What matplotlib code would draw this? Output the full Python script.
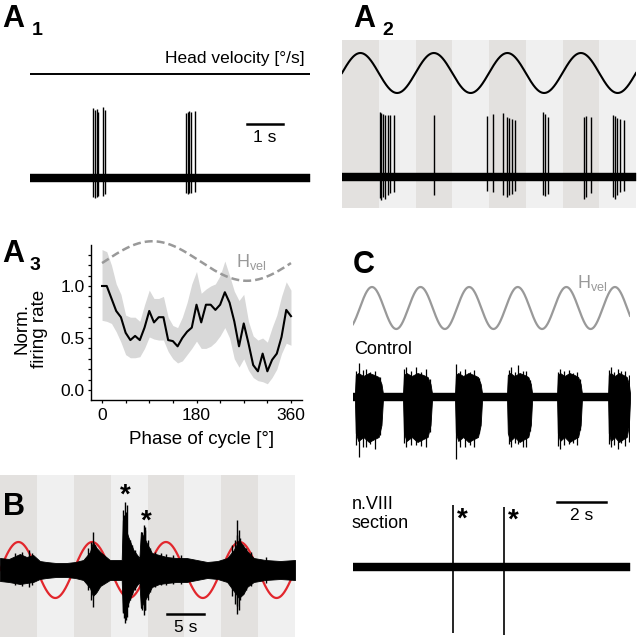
import numpy as np
import matplotlib
matplotlib.use("Agg")
import matplotlib.pyplot as plt

plt.rcParams["font.family"] = ["Liberation Sans", "DejaVu Sans"]
plt.rcParams["mathtext.fontset"] = "custom"
plt.rcParams["mathtext.rm"] = "Liberation Sans"

W, H = 638, 640
DARK_STRIPE = "#e3e1df"
LIGHT_STRIPE = "#f0f0f0"
GREY = "#999999"
RED = "#e2262c"
NOISE = 0.038  # half-width of the baseline noise band (trace units)

# ---- A1: spontaneous firing, no stimulus (time in s, amplitude in a.u.) ----
A1_DURATION = 7.78
A1_SPIKE_T = [1.74, 1.80, 1.85, 1.88, 2.02, 2.09, 4.33, 4.38, 4.42, 4.47, 4.58]
A1_SPIKE_TOP = [0.70, 0.68, 0.69, 0.66, 0.71, 0.68, 0.65, 0.66, 0.67, 0.66, 0.67]
A1_SPIKE_BOT = [-0.19, -0.20, -0.19, -0.18, -0.18, -0.16, -0.15, -0.16, -0.15, -0.15, -0.14]

# ---- A2: firing during sinusoidal head rotation ----
A2_DURATION = 8.0
A2_PERIOD = 2.0
A2_SPIKE_T = [1.03, 1.07, 1.12, 1.18, 1.24, 1.31, 1.42, 2.51,
              3.94, 4.12, 4.37, 4.50, 4.54, 4.62, 4.71,
              5.46, 5.52, 5.60, 6.59, 6.64, 6.77,
              7.37, 7.43, 7.49, 7.56, 7.67]
A2_SPIKE_TOP = [0.65, 0.64, 0.63, 0.62, 0.62, 0.62, 0.62, 0.62,
                0.61, 0.63, 0.64, 0.60, 0.59, 0.58, 0.57,
                0.65, 0.63, 0.60, 0.60, 0.61, 0.60,
                0.62, 0.61, 0.59, 0.58, 0.57]
A2_SPIKE_BOT = [-0.21, -0.23, -0.20, -0.22, -0.18, -0.16, -0.15, -0.18,
                -0.14, -0.15, -0.18, -0.20, -0.18, -0.17, -0.14,
                -0.18, -0.19, -0.17, -0.22, -0.20, -0.16,
                -0.20, -0.22, -0.18, -0.15, -0.14]

# ---- A3: normalized firing rate over the stimulus cycle ----
A3_PHASE = list(range(0, 361, 9))
A3_MEAN = [1.00, 1.00, 0.88, 0.76, 0.70, 0.55, 0.48, 0.52, 0.48, 0.60, 0.76,
           0.65, 0.70, 0.70, 0.48, 0.47, 0.42, 0.50, 0.56, 0.60, 0.82,
           0.65, 0.82, 0.82, 0.77, 0.82, 0.94, 0.84, 0.66, 0.42, 0.64,
           0.45, 0.24, 0.18, 0.35, 0.18, 0.29, 0.35, 0.51, 0.77, 0.71]
A3_UPPER = [1.35, 1.33, 1.20, 1.02, 0.92, 0.72, 0.70, 0.70, 0.66, 0.82, 0.96,
            0.88, 0.88, 0.90, 0.70, 0.62, 0.60, 0.70, 0.84, 1.02, 1.14,
            0.93, 0.97, 1.00, 1.02, 1.10, 1.24, 1.10, 0.95, 0.86, 0.92,
            0.66, 0.52, 0.48, 0.50, 0.46, 0.60, 0.72, 0.90, 1.04, 0.96]
A3_LOWER = [0.67, 0.66, 0.64, 0.56, 0.46, 0.34, 0.31, 0.31, 0.32, 0.40, 0.51,
            0.49, 0.48, 0.48, 0.37, 0.30, 0.26, 0.28, 0.34, 0.40, 0.47,
            0.40, 0.40, 0.42, 0.46, 0.52, 0.60, 0.50, 0.30, 0.22, 0.30,
            0.19, 0.12, 0.09, 0.08, 0.06, 0.12, 0.20, 0.35, 0.45, 0.43]
A3_HVEL_MEAN, A3_HVEL_AMP, A3_HVEL_SHIFT = 1.24, 0.19, 6

# ---- B: multi-unit activity during slow rotation ----
B_DURATION = 40.0
B_PERIOD = 10.0
B_ENV_T = [0, 1.2, 2.7, 3.6, 4.5, 5.4, 6.3, 7.6, 9.0, 10.2, 11.3, 12.2, 12.6, 13.1,
           13.6, 14.9, 16.5, 16.65, 17.0, 17.4, 18.1, 18.9, 19.1, 19.5, 19.9, 20.6,
           21.6, 22.6, 23.9, 25.3, 26.7, 28.1, 29.5, 30.8, 31.7, 32.4, 33.0, 33.5,
           34.4, 36.0, 38.0, 40.0]
B_ENV_UP = [0.12, 0.11, 0.16, 0.13, 0.15, 0.09, 0.08, 0.07, 0.07, 0.08, 0.10, 0.18,
            0.28, 0.22, 0.18, 0.10, 0.10, 0.50, 0.42, 0.33, 0.20, 0.12, 0.38, 0.33,
            0.27, 0.17, 0.15, 0.13, 0.12, 0.12, 0.10, 0.08, 0.09, 0.12, 0.20, 0.30,
            0.24, 0.19, 0.12, 0.10, 0.09, 0.10]
B_ENV_DOWN = [-0.11, -0.12, -0.14, -0.13, -0.12, -0.09, -0.08, -0.07, -0.07, -0.08,
              -0.10, -0.18, -0.26, -0.22, -0.16, -0.10, -0.10, -0.42, -0.40, -0.33,
              -0.20, -0.12, -0.38, -0.32, -0.27, -0.17, -0.14, -0.13, -0.12, -0.12,
              -0.10, -0.08, -0.09, -0.12, -0.21, -0.28, -0.24, -0.17, -0.12, -0.10,
              -0.09, -0.10]
B_SPIKE_T = [12.6, 16.7, 17.0, 17.2, 17.4, 19.2, 19.5, 19.7, 32.1, 32.4,
             2.0, 3.0, 3.9, 4.3, 11.9, 12.3, 12.9, 13.2, 16.8, 16.9, 17.1, 17.6,
             17.9, 18.3, 19.3, 19.6, 20.0, 20.4, 21.0, 21.8, 22.5, 23.5, 24.5,
             31.5, 31.9, 32.2, 32.6, 32.9, 33.4, 34.0, 36.0]
B_SPIKE_TOP = [0.38, 0.60, 0.68, 0.65, 0.27, 0.38, 0.45, 0.43, 0.50, 0.40,
               0.17, 0.18, 0.20, 0.17, 0.22, 0.28, 0.25, 0.20, 0.55, 0.50, 0.58,
               0.30, 0.25, 0.20, 0.36, 0.40, 0.30, 0.22, 0.18, 0.17, 0.16, 0.15,
               0.15, 0.25, 0.30, 0.35, 0.32, 0.25, 0.22, 0.18, 0.13]
B_SPIKE_BOT = [-0.37, -0.43, -0.53, -0.47, -0.37, -0.40, -0.45, -0.40, -0.44, -0.40,
               -0.15, -0.16, -0.17, -0.15, -0.20, -0.30, -0.24, -0.20, -0.48, -0.44,
               -0.50, -0.30, -0.24, -0.20, -0.38, -0.40, -0.30, -0.22, -0.17, -0.15,
               -0.15, -0.14, -0.14, -0.26, -0.34, -0.36, -0.30, -0.24, -0.20, -0.16,
               -0.13]

# ---- C: control vs. after n.VIII section ----
C_DURATION = 11.4
C_PERIOD = 2.0
C_SINE_PEAK = 0.78
C_BURST_ON = [0.08, 2.06, 4.20, 6.34, 8.40, 10.50]
C_BURST_OFF = [1.23, 3.25, 5.31, 7.37, 9.42, 11.40]
C_ENV_FRAC = [0.0, 0.03, 0.12, 0.30, 0.50, 0.70, 0.85, 0.95, 1.0]
C_ENV_UP = [0.04, 0.22, 0.24, 0.21, 0.24, 0.22, 0.20, 0.13, 0.04]
C_ENV_DOWN = [-0.04, -0.36, -0.44, -0.40, -0.45, -0.42, -0.40, -0.28, -0.04]
C_SPIKE_T = [0.12, 0.25, 0.40, 0.55, 0.70, 0.90, 1.10,
             2.10, 2.20, 2.40, 2.60, 2.80, 3.00, 3.15,
             4.25, 4.40, 4.60, 4.80, 5.00, 5.20,
             6.40, 6.50, 6.65, 6.80, 7.00, 7.10, 7.28,
             8.45, 8.50, 8.70, 8.90, 9.05, 9.20, 9.35,
             10.55, 10.60, 10.75, 10.90, 11.05, 11.20, 11.35]
C_SPIKE_TOP = [0.26, 0.34, 0.27, 0.28, 0.25, 0.26, 0.20,
               0.28, 0.30, 0.26, 0.30, 0.25, 0.28, 0.18,
               0.33, 0.26, 0.28, 0.25, 0.27, 0.19,
               0.27, 0.30, 0.25, 0.32, 0.26, 0.26, 0.17,
               0.25, 0.28, 0.26, 0.27, 0.24, 0.25, 0.18,
               0.27, 0.30, 0.25, 0.28, 0.26, 0.26, 0.22]
C_SPIKE_BOT = [-0.48, -0.60, -0.50, -0.50, -0.47, -0.52, -0.38,
               -0.46, -0.50, -0.48, -0.48, -0.49, -0.50, -0.35,
               -0.62, -0.50, -0.50, -0.48, -0.50, -0.36,
               -0.47, -0.50, -0.46, -0.47, -0.50, -0.50, -0.34,
               -0.49, -0.52, -0.48, -0.47, -0.46, -0.48, -0.33,
               -0.47, -0.50, -0.48, -0.52, -0.46, -0.49, -0.45]
C_SECT_SPIKE_T = [4.12, 6.21]
C_SECT_SPIKE_TOP = [0.62, 0.60]
C_SECT_SPIKE_BOT = [-0.66, -0.68]

fig = plt.figure(figsize=(W / 100, H / 100), dpi=100)


def trace_ax(x0, x1, y0, y1, xlim, base_px):
    """Axes over a pixel box (top-left origin); y unit = 100 px, 0 at base_px."""
    ax = fig.add_axes([x0 / W, 1 - y1 / H, (x1 - x0) / W, (y1 - y0) / H])
    ax.set_xlim(*xlim)
    ax.set_ylim((base_px - y1) / 100, (base_px - y0) / 100)
    ax.axis("off")
    return ax


def ftext(x, y, s, **kw):
    return fig.text(x / W, 1 - y / H, s, **kw)


def panel_label(x, y, letter, sub=None, sub_dx=30, sub_dy=8):
    ftext(x, y, letter, fontsize=22, fontweight="bold", va="baseline")
    if sub:
        ftext(x + sub_dx, y + sub_dy, sub, fontsize=14, fontweight="bold", va="baseline")


def baseline(ax, dur):
    ax.fill_between([0, dur], -NOISE, NOISE, color="k", lw=0.3, zorder=3)


def stripes(ax, dur, half):
    n = int(round(dur / half))
    for i in range(n):
        ax.axvspan(i * half, (i + 1) * half, color=DARK_STRIPE if i % 2 == 0 else LIGHT_STRIPE,
                   lw=0, zorder=0)


# A1
ax = trace_ax(30, 310, 40, 205, (0, A1_DURATION), 178)
ax.plot([0, A1_DURATION], [1.04, 1.04], color="k", lw=1.4)
ax.text(7.64, 1.15, "Head velocity [°/s]", ha="right", va="baseline", fontsize=12.5)
baseline(ax, A1_DURATION)
ax.vlines(A1_SPIKE_T, A1_SPIKE_BOT, A1_SPIKE_TOP, color="k", lw=1.0, zorder=4)
ax.plot([6.03, 7.03], [0.54, 0.54], color="k", lw=1.8)
ax.text(6.53, 0.40, "1 s", ha="center", va="center", fontsize=12.5)
panel_label(2, 27, "A", "1", sub_dx=30, sub_dy=8)

# A2
ax = trace_ax(342, 636, 40, 208, (0, A2_DURATION), 177)
stripes(ax, A2_DURATION, A2_PERIOD / 2)
t = np.linspace(0, A2_DURATION, 600)
ax.plot(t, 1.04 + 0.20 * np.sin(2 * np.pi * t / A2_PERIOD), color="k", lw=1.5)
baseline(ax, A2_DURATION)
ax.vlines(A2_SPIKE_T, A2_SPIKE_BOT, A2_SPIKE_TOP, color="k", lw=1.0, zorder=4)
panel_label(353, 27, "A", "2", sub_dx=29, sub_dy=8)

# A3
ax = fig.add_axes([91 / W, 1 - 400 / H, (302 - 91) / W, (400 - 245) / H])
ax.fill_between(A3_PHASE, A3_LOWER, A3_UPPER, color="#d8d8d8", lw=0)
ax.plot(A3_PHASE, A3_MEAN, color="k", lw=1.5)
ph = np.linspace(0, 360, 200)
ax.plot(ph, A3_HVEL_MEAN + A3_HVEL_AMP * np.sin(np.radians(ph - A3_HVEL_SHIFT)),
        color=GREY, lw=1.8, ls=(0, (3.2, 1.6)), clip_on=False)
ax.text(256, 1.18, r"H$_{\rm vel}$", color=GREY, fontsize=13, va="baseline")
ax.set_xlim(-21, 381)
ax.set_ylim(-0.096, 1.394)
ax.set_xticks(range(0, 361, 45))
ax.set_xticklabels(["0", "", "", "", "180", "", "", "", "360"])
yt = np.round(np.arange(0, 1.31, 0.1), 1)
ax.set_yticks(yt)
ax.set_yticklabels([f"{v:.1f}" if v in (0.0, 0.5, 1.0) else "" for v in yt])
for s in ("top", "right"):
    ax.spines[s].set_visible(False)
for s in ("left", "bottom"):
    ax.spines[s].set_linewidth(1.0)
ax.tick_params(direction="out", length=2.5, width=0.9, labelsize=12.5)
ax.tick_params(axis="x", pad=3.5)
ax.tick_params(axis="y", pad=2)
ax.set_xlabel("Phase of cycle [°]", fontsize=13.5)
ax.set_ylabel("Norm.\nfiring rate", fontsize=13.5, linespacing=1.0)
ax.xaxis.set_label_coords(0.526, -0.2)
ax.yaxis.set_label_coords(-0.205, 0.46)
ax.xaxis.label.set_va("top")
panel_label(2, 262, "A", "3", sub_dx=28, sub_dy=8)

# B
ax = trace_ax(0, 295, 475, 637, (0, B_DURATION), 570)
stripes(ax, B_DURATION, B_PERIOD / 2)
t = np.linspace(0, B_DURATION, 800)
ax.plot(t, 0.28 * np.sin(2 * np.pi * t / B_PERIOD), color=RED, lw=1.6, zorder=2)
ax.fill_between(B_ENV_T, B_ENV_DOWN, B_ENV_UP, color="k", lw=0.6, zorder=3)
ax.vlines(B_SPIKE_T, B_SPIKE_BOT, B_SPIKE_TOP, color="k", lw=1.0, zorder=4)
ax.text(16.95, 0.74, "*", ha="center", va="center", fontsize=20, fontweight="bold")
ax.text(19.8, 0.48, "*", ha="center", va="center", fontsize=20, fontweight="bold")
ax.plot([22.7, 27.7], [-0.44, -0.44], color="k", lw=1.8)
ax.text(25.2, -0.57, "5 s", ha="center", va="center", fontsize=12.5)
panel_label(3, 515, "B")

# C: stimulus + control
ax = trace_ax(353, 630, 280, 470, (0, C_DURATION), 397)
t = np.linspace(0, C_DURATION, 600)
ax.plot(t, 0.89 + 0.21 * np.sin(2 * np.pi * (t - C_SINE_PEAK) / C_PERIOD + np.pi / 2),
        color=GREY, lw=1.6)
ax.text(9.2, 1.09, r"H$_{\rm vel}$", color=GREY, fontsize=13, va="baseline")
baseline(ax, C_DURATION)
for on, off in zip(C_BURST_ON, C_BURST_OFF):
    bt = [on + f * (off - on) for f in C_ENV_FRAC]
    ax.fill_between(bt, C_ENV_DOWN, C_ENV_UP, color="k", lw=0.6, zorder=3)
ax.vlines(C_SPIKE_T, C_SPIKE_BOT, C_SPIKE_TOP, color="k", lw=0.9, zorder=4)
ftext(354, 350, "Control", fontsize=13, va="center")
panel_label(353, 273, "C")

# C: after n.VIII section
ax = trace_ax(353, 630, 495, 640, (0, C_DURATION), 567)
baseline(ax, C_DURATION)
ax.vlines(C_SECT_SPIKE_T, C_SECT_SPIKE_BOT, C_SECT_SPIKE_TOP, color="k", lw=1.2, zorder=4)
ax.text(4.49, 0.47, "*", ha="center", va="center", fontsize=20, fontweight="bold")
ax.text(6.58, 0.46, "*", ha="center", va="center", fontsize=20, fontweight="bold")
ax.plot([8.4, 10.4], [0.65, 0.65], color="k", lw=1.8)
ax.text(9.4, 0.52, "2 s", ha="center", va="center", fontsize=12.5)
ftext(352, 514, "n.VIII\nsection", fontsize=13, va="center", linespacing=1.1)

fig.savefig("out.png", dpi=100)
